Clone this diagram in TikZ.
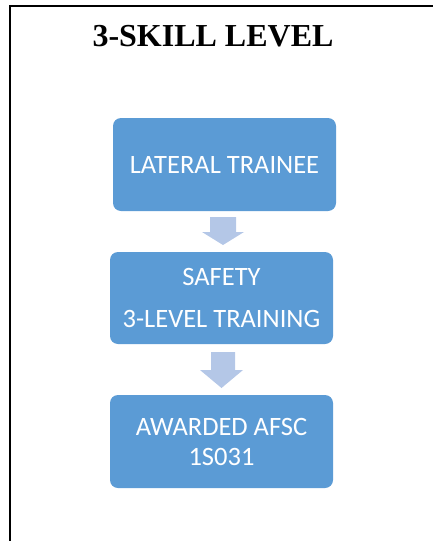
\documentclass[tikz,border=0pt]{standalone}
\usepackage{fontspec}
\setmainfont{Liberation Serif}
\newfontfamily\calfont{Carlito}
\definecolor{boxblue}{HTML}{5B9BD5}
\definecolor{arrowblue}{HTML}{B4C7E7}
\begin{document}
\begin{tikzpicture}[x=1pt,y=-1pt,
  stepbox/.style={fill=boxblue, draw=none, rounded corners=8pt, text=white},
  boxtext/.style={text=white, align=center, inner sep=0pt, font=\calfont\fontsize{26.5}{30}\selectfont},
  blockarrow/.style={fill=arrowblue, draw=none}]
\useasboundingbox (0,0) rectangle (433,541);
% frame
\draw[line width=2.2pt] (10,541) -- (10,6) -- (433,6);
% title
\node[font=\bfseries\fontsize{32}{36}\selectfont, anchor=base] (title) at (213,46) {3-SKILL LEVEL};
% boxes
\path[stepbox] (113,118) rectangle (336,211);
\node[boxtext] (b1) at (224.5,164.5) {LATERAL TRAINEE};
\path[stepbox] (110,252) rectangle (333,344);
\node[boxtext, font=\calfont\fontsize{26.5}{42}\selectfont] (b2) at (221.5,297.5) {SAFETY\\3-LEVEL TRAINING};
\path[stepbox] (110,395) rectangle (333,488);
\node[boxtext] (b3) at (221.5,441.5) {AWARDED AFSC\\1S031};
% arrows
\fill[blockarrow] (210,217) -- (236,217) -- (236,232) -- (244,232) -- (223,245) -- (202,232) -- (210,232) -- cycle;
\fill[blockarrow] (211,352) -- (235,352) -- (235,370) -- (243,370) -- (221.5,388) -- (200,370) -- (211,370) -- cycle;
\end{tikzpicture}
\end{document}
